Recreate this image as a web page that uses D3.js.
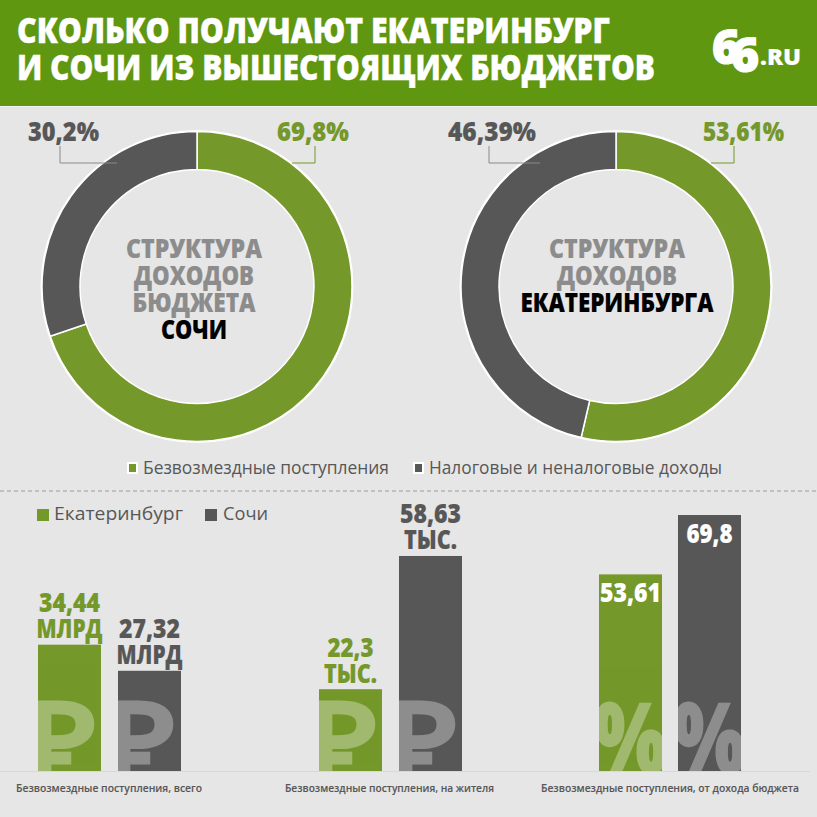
<!DOCTYPE html>
<html>
<head>
<meta charset="utf-8">
<script src="https://cdnjs.cloudflare.com/ajax/libs/d3/7.8.5/d3.min.js"></script>
<style>
html, body { margin: 0; padding: 0; background: #e6e6e6; }
text { font-family: "Open Sans", sans-serif; }
</style>
</head>
<body>
<script>
const green = "#74982a", dark = "#575757";

const donutNames = ["Безвозмездные поступления", "Налоговые и неналоговые доходы"];
const sochiShares = [69.8, 30.2];
const ekbShares = [53.61, 46.39];
const sochiLabels = ["69,8%", "30,2%"];
const ekbLabels = ["53,61%", "46,39%"];

const cities = ["Екатеринбург", "Сочи"];
const groupNames = ["Безвозмездные поступления, всего", "Безвозмездные поступления, на жителя", "Безвозмездные поступления, от дохода бюджета"];
const ekbValues = [34.44, 22.3, 53.61];
const sochiValues = [27.32, 58.63, 69.8];
const ekbBarLabels = [["34,44", "МЛРД"], ["22,3", "ТЫС."], ["53,61"]];
const sochiBarLabels = [["27,32", "МЛРД"], ["58,63", "ТЫС."], ["69,8"]];
const barSymbols = ["₽", "₽", "%"];

const W = 817, H = 817;
const svg = d3.select("body").append("svg").attr("width", W).attr("height", H)
  .style("display", "block");

svg.append("rect").attr("width", W).attr("height", H).attr("fill", "#e6e6e6");

// condensed look: no condensed font here, so squeeze to a measured width
function label(parent, str, x, y, size, fill, width, anchor, weight, thick) {
  return parent.append("text")
    .attr("x", x).attr("y", y)
    .attr("font-size", size)
    .attr("font-weight", weight || 800)
    .attr("fill", fill)
    .attr("stroke", fill)
    .attr("stroke-width", thick === undefined ? 0.15 : thick)
    .attr("text-anchor", anchor || "start")
    .attr("textLength", width)
    .attr("lengthAdjust", "spacingAndGlyphs")
    .text(str);
}

// header
svg.append("rect").attr("width", W).attr("height", 106).attr("fill", "#5f9711");
svg.append("rect").attr("y", 106).attr("width", W).attr("height", 1).attr("fill", "#f1f1f1");
label(svg, "СКОЛЬКО ПОЛУЧАЮТ ЕКАТЕРИНБУРГ", 17, 43, 35, "#fff", 593, "start", 800, 0.4);
label(svg, "И СОЧИ ИЗ ВЫШЕСТОЯЩИХ БЮДЖЕТОВ", 17, 80, 35, "#fff", 638, "start", 800, 0.4);

// logo, the second six sits lower and overlaps the first
const logo = svg.append("text").attr("font-size", 48).attr("font-weight", 800).attr("fill", "#fff")
  .attr("stroke", "#fff").attr("stroke-width", 1.2);
logo.append("tspan").attr("x", 712).attr("y", 64).text("6");
logo.append("tspan").attr("x", 731).attr("y", 72).text("6");
label(svg, ".RU", 760, 65, 22, "#fff", 41);

// donuts
const pie = d3.pie().sort(null).value(d => d);
const arc = d3.arc().innerRadius(117).outerRadius(155);
const color = d3.scaleOrdinal().domain([0, 1]).range([green, dark]);

function donut(cx, shares, labels, titleLines, left, rightX, leftW, rightW) {
  const g = svg.append("g").attr("transform", `translate(${cx},286.5)`);
  g.append("circle").attr("r", 156.5).attr("fill", "#fff");
  g.append("circle").attr("r", 117).attr("fill", "#e6e6e6");
  g.selectAll("path").data(pie(shares)).enter().append("path")
    .attr("d", arc)
    .attr("fill", (d, i) => color(i))
    .attr("stroke", "#fff")
    .attr("stroke-width", 1.5);

  // leader lines
  svg.append("polyline")
    .attr("points", `${cx + 118},146 ${cx + 118},163 ${cx + 95},163`)
    .attr("fill", "none").attr("stroke", green).attr("stroke-width", 1);
  svg.append("polyline")
    .attr("points", `${left.line},146 ${left.line},163 ${left.end},163`)
    .attr("fill", "none").attr("stroke", "#8a8a8a").attr("stroke-width", 1);

  label(svg, labels[0], rightX, 141, 26, green, rightW);
  label(svg, labels[1], left.text, 141, 26, dark, leftW);

  titleLines.forEach((t, i) => {
    label(svg, t.text, cx + t.dx, 258 + i * 27, 26, t.fill, t.w, "middle");
  });
}

donut(197, sochiShares, sochiLabels, [
  { text: "СТРУКТУРА", dx: -3, w: 136, fill: "#8c8c8c" },
  { text: "ДОХОДОВ", dx: -3, w: 120, fill: "#8c8c8c" },
  { text: "БЮДЖЕТА", dx: -3, w: 123, fill: "#8c8c8c" },
  { text: "СОЧИ", dx: -3, w: 66, fill: "#000" }
], { text: 28, line: 60, end: 117 }, 277, 71, 72);

donut(616, ekbShares, ekbLabels, [
  { text: "СТРУКТУРА", dx: 1, w: 136, fill: "#8c8c8c" },
  { text: "ДОХОДОВ", dx: 1, w: 120, fill: "#8c8c8c" },
  { text: "ЕКАТЕРИНБУРГА", dx: 1, w: 193, fill: "#000" }
], { text: 448, line: 489, end: 540 }, 703, 88, 81);

// donut legend
const legendItems = [
  { x: 127, tx: 143, w: 246 },
  { x: 413, tx: 429, w: 293 }
];
legendItems.forEach((d, i) => {
  svg.append("rect").attr("x", d.x).attr("y", 462).attr("width", 11).attr("height", 12).attr("fill", "#fff");
  svg.append("rect").attr("x", d.x + 2).attr("y", 464).attr("width", 7).attr("height", 8).attr("fill", color(i));
  label(svg, donutNames[i], d.tx, 474, 18, dark, d.w, "start", 400, 0);
});

// separator
svg.append("line").attr("x1", 0).attr("x2", W).attr("y1", 491).attr("y2", 491)
  .attr("stroke", "#9a9a9a").attr("stroke-width", 1).attr("stroke-dasharray", "4 3");

// bars legend
[{ x: 37, tx: 54, w: 129 }, { x: 205, tx: 223, w: 45 }].forEach((d, i) => {
  svg.append("rect").attr("x", d.x).attr("y", 509).attr("width", 12).attr("height", 12).attr("fill", color(i));
  label(svg, cities[i], d.tx, 520, 19, dark, d.w, "start", 400, 0);
});

// bars
const y = d3.scaleLinear().domain([0, 69.8]).range([771, 515]);
const groupX = [38, 319, 599];
const barW = 63, barStep = 80;
const series = [ekbValues, sochiValues];
const seriesLabels = [ekbBarLabels, sochiBarLabels];
const barX = (s, i) => groupX[i] + s * barStep - (i == 2 && s == 1 ? 1 : 0);

svg.append("defs").selectAll("clipPath")
  .data(d3.range(6)).enter().append("clipPath")
  .attr("id", d => "bar" + d)
  .append("rect")
  .attr("x", d => barX(Math.floor(d / 3), d % 3))
  .attr("y", d => y(series[Math.floor(d / 3)][d % 3]))
  .attr("width", barW)
  .attr("height", d => 771 - y(series[Math.floor(d / 3)][d % 3]));

series.forEach((vals, s) => {
  const g = svg.append("g");
  g.selectAll("rect").data(vals).enter().append("rect")
    .attr("x", (d, i) => barX(s, i))
    .attr("y", d => y(d))
    .attr("width", barW)
    .attr("height", d => 771 - y(d))
    .attr("fill", color(s));

  vals.forEach((v, i) => {
    const cx = barX(s, i) + barW / 2;
    const rub = barSymbols[i] == "₽";
    // watermark symbol, cut off by the bar
    g.append("g").attr("clip-path", `url(#bar${s * 3 + i})`)
      .append("text")
      .attr("x", rub ? cx - 10 : cx)
      .attr("y", rub ? 775 : 773)
      .attr("text-anchor", "middle")
      .attr("font-family", rub ? "'DejaVu Sans'" : "'Open Sans'")
      .attr("font-size", rub ? 100 : 98)
      .attr("font-weight", rub ? 700 : 800)
      .attr("fill", "#fff")
      .attr("stroke", "#fff").attr("stroke-width", rub ? 3 : 1.5)
      .attr("opacity", 0.32)
      .attr("textLength", rub ? 70 : 72)
      .attr("lengthAdjust", "spacingAndGlyphs")
      .text(barSymbols[i]);

    const lines = seriesLabels[s][i];
    const inside = i == 2;
    lines.forEach((t, k) => {
      const ty = inside ? y(v) + 27.5 : y(v) - 6.5 - (lines.length - 1 - k) * 26;
      const w = t.length == 5 && /\d/.test(t) ? 61 : (t.length == 4 && /\d/.test(t) ? 46 : (t == "МЛРД" ? 66 : 53));
      label(g, t, cx, ty, 26, inside ? "#fff" : color(s), w, "middle");
    });
  });
});

// baseline and group captions
svg.append("line").attr("x1", 0).attr("x2", 810).attr("y1", 771.5).attr("y2", 771.5)
  .attr("stroke", "#d8d8d8").attr("stroke-width", 1);
const captions = [{ x: 16, w: 186 }, { x: 285, w: 209 }, { x: 541, w: 258 }];
captions.forEach((d, i) => {
  label(svg, groupNames[i], d.x, 792, 11, dark, d.w, "start", 600, 0.1);
});
</script>
</body>
</html>
